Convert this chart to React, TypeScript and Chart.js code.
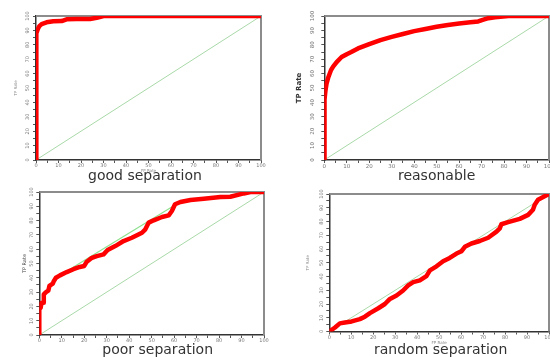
import React, { useEffect, useRef } from 'react';
import { Chart, registerables } from 'chart.js';

Chart.register(...registerables);
Chart.defaults.font.family = 'DejaVu Sans';

// ---- data (percent) ----
const axisTicks = [0, 10, 20, 30, 40, 50, 60, 70, 80, 90, 100];
const diagFpr = [0, 100];
const diagTpr = [0, 100];

const goodFpr = [0, 0, 0.3, 0.6, 1, 1.5, 2.5, 4.7, 7.7, 11.4, 13.6, 18, 24, 27, 30, 100];
const goodTpr = [0, 86, 88, 90, 91.5, 93, 94.4, 95.6, 96.3, 96.5, 97.7, 97.9, 97.9, 98.8, 100, 100];

const reasFpr = [0, 0, 0.2, 0.5, 1, 1.8, 3, 4, 5.5, 7.7, 10, 12, 15, 20, 25, 30, 35, 40, 45, 50, 55, 60, 65, 68.5, 70.5, 73, 76, 82, 100];
const reasTpr = [0, 30, 42, 48, 53, 57.5, 62.5, 65, 68, 71.5, 73.5, 75, 77.5, 80.5, 83.3, 85.5, 87.5, 89.5, 91, 92.5, 93.8, 94.8, 95.6, 96.2, 97.3, 98.5, 99.2, 100, 100];

const poorFpr = [0, 0, 0.6, 1, 1.8, 2, 3, 4, 4.5, 6, 6.5, 7.4, 9.2, 12.2, 15.2, 18, 20, 21, 23.4, 25.6, 28.6, 30.4, 33.8, 37.5, 41.2, 45.7, 47.2, 48.7, 50.9, 54.6, 57.6, 59, 60.4, 62.8, 67.3, 73.2, 80.6, 85, 91, 94, 100];
const poorTpr = [0, 18, 19, 22.6, 22.6, 28.4, 30, 31, 34.3, 35.9, 37.8, 40, 41.7, 44, 46, 47.6, 48.3, 51, 54, 55.2, 56.4, 59.4, 62.2, 65.7, 68, 71.5, 73.9, 78.6, 80.2, 82.5, 83.7, 86.7, 91.4, 93, 94.4, 95.3, 96.5, 96.7, 99, 100, 100];
const poorHullFpr = [12.5, 59.5];
const poorHullTpr = [45, 90];

const randFpr = [0, 2.6, 4.8, 7.1, 10.2, 13.9, 16.2, 18.5, 22.3, 25.3, 27.6, 30.6, 33.6, 35.9, 38.2, 41.2, 44.2, 45.8, 48.8, 51.8, 54.8, 57.9, 60.2, 61.7, 64.7, 68.5, 72.3, 76.1, 77.6, 78.3, 81.4, 86.7, 90.5, 92.7, 93.5, 95, 98, 100];
const randTpr = [0, 2.9, 5.9, 6.6, 7.3, 9, 10.8, 13.4, 16.9, 20, 23.7, 26.2, 29.8, 33.5, 35.9, 37.2, 40.3, 44.5, 47.4, 51.1, 53.5, 56.7, 58.4, 61.6, 64, 65.8, 68.2, 72.6, 75, 78, 79.5, 81.9, 84.8, 88.5, 92.2, 95.8, 98.3, 100];

const titles = ['good separation', 'reasonable', 'poor separation', 'random separation'];
const xAxisTitle = 'FP Rate';
const yAxisTitle = 'TP Rate';

const zip = (xs: number[], ys: number[]) => xs.map((x, i) => ({ x, y: ys[i] }));

type Cfg = {
  left: number; top: number; width: number; height: number;
  padTop: number; padRight: number; padBottom: number;
  yW: number; xH: number; x2H: number; titleDx: number;
  title: string;
  showX: boolean;
  yTitleSize: number; yTitleWeight: string; yTitleColor: string; yTitlePad: number;
  yTickPad: number; tickSize: number;
  curve: { x: number; y: number }[];
  hull?: { x: number; y: number }[];
};

const panels: Cfg[] = [
  {
    left: 0, top: 0, width: 275, height: 185,
    padTop: 16, padRight: 14, padBottom: 2,
    yW: 36, xH: 10, x2H: 13, titleDx: -3.5,
    title: titles[0], showX: true,
    yTitleSize: 4, yTitleWeight: 'normal', yTitleColor: '#888', yTitlePad: 13.6,
    yTickPad: 1, tickSize: 5,
    curve: zip(goodFpr, goodTpr),
  },
  {
    left: 275, top: 0, width: 275, height: 185,
    padTop: 16, padRight: 1, padBottom: 2,
    yW: 49.3, xH: 10.5, x2H: 12.5, titleDx: 0,
    title: titles[1], showX: false,
    yTitleSize: 7, yTitleWeight: 'bold', yTitleColor: '#333', yTitlePad: 19.8,
    yTickPad: 3.5, tickSize: 5.5,
    curve: zip(reasFpr, reasTpr),
  },
  {
    left: 0, top: 185, width: 275, height: 172,
    padTop: 7, padRight: 11, padBottom: 0,
    yW: 39.3, xH: 11, x2H: 11, titleDx: 6,
    title: titles[2], showX: false,
    yTitleSize: 5, yTitleWeight: 'normal', yTitleColor: '#444', yTitlePad: 22,
    yTickPad: 0, tickSize: 5,
    curve: zip(poorFpr, poorTpr),
    hull: zip(poorHullFpr, poorHullTpr),
  },
  {
    left: 275, top: 185, width: 275, height: 172,
    padTop: 9, padRight: 1, padBottom: 0,
    yW: 54.3, xH: 11, x2H: 14.5, titleDx: 1.5,
    title: titles[3], showX: true,
    yTitleSize: 4, yTitleWeight: 'normal', yTitleColor: '#888', yTitlePad: 30.6,
    yTickPad: 0, tickSize: 5,
    curve: zip(randFpr, randTpr),
  },
];

const framePlugin = {
  id: 'frame',
  beforeDatasetsDraw(chart: any) {
    const { ctx, chartArea: a } = chart;
    ctx.save();
    ctx.strokeStyle = '#8c8c8c';
    ctx.lineWidth = 2;
    ctx.beginPath();
    ctx.moveTo(a.left, a.top);
    ctx.lineTo(a.right, a.top);
    ctx.lineTo(a.right, a.bottom);
    ctx.stroke();
    ctx.restore();
  },
};

const tickLabel = (v: any) => (axisTicks.includes(Number(v)) ? String(v) : '');

function Panel({ cfg }: { cfg: Cfg }) {
  const ref = useRef<HTMLCanvasElement>(null);
  useEffect(() => {
    const datasets: any[] = [
      {
        data: cfg.curve,
        borderColor: '#ff0000',
        borderWidth: 4.5,
        showLine: true,
        pointRadius: 0,
        tension: 0,
        borderJoinStyle: 'round',
        borderCapStyle: 'round',
      },
    ];
    if (cfg.hull) {
      datasets.push({
        data: cfg.hull,
        borderColor: '#8fe08f',
        borderWidth: 1.2,
        showLine: true,
        pointRadius: 0,
      });
    }
    datasets.push({
      data: zip(diagFpr, diagTpr),
      borderColor: '#a9d9a9',
      borderWidth: 1,
      showLine: true,
      pointRadius: 0,
    });
    const shiftTitle = {
      id: 'shiftTitle',
      afterLayout(chart: any) {
        const s = chart.scales.x2;
        s.left += cfg.titleDx;
        s.right += cfg.titleDx;
      },
    };
    const gridOpts = { drawOnChartArea: false, drawTicks: true, tickLength: 3, color: '#555', lineWidth: 1 };
    const borderOpts = { display: true, color: '#333', width: 1.5 };
    const chart = new Chart(ref.current as HTMLCanvasElement, {
      type: 'scatter',
      data: { datasets },
      plugins: [framePlugin, shiftTitle],
      options: {
        responsive: false,
        animation: false,
        layout: { padding: { top: cfg.padTop, right: cfg.padRight, bottom: cfg.padBottom, left: 0 } },
        plugins: { legend: { display: false }, tooltip: { enabled: false }, title: { display: false } },
        scales: {
          x: {
            type: 'linear', min: 0, max: 100, position: 'bottom', weight: 0,
            ticks: {
              stepSize: 5, maxTicksLimit: 21, autoSkip: false, maxRotation: 0, minRotation: 0, padding: 0,
              color: '#777', font: { size: cfg.tickSize }, callback: tickLabel,
            },
            grid: gridOpts,
            border: borderOpts,
            title: { display: cfg.showX, text: xAxisTitle, color: '#888', font: { size: 4 }, padding: { top: 0, bottom: -3 } },
            afterFit: (s: any) => { s.height = cfg.xH; s.paddingLeft = 0; s.paddingRight = 0; },
          },
          x2: {
            type: 'linear', min: 0, max: 100, position: 'bottom', weight: 1,
            ticks: { display: false },
            grid: { display: false, drawTicks: false },
            border: { display: false },
            title: { display: true, text: cfg.title, color: '#333', font: { size: 14, lineHeight: 1 }, padding: 0 },
            afterFit: (s: any) => { s.height = cfg.x2H; s.paddingLeft = 0; s.paddingRight = 0; },
          },
          y: {
            type: 'linear', min: 0, max: 100, position: 'left',
            ticks: {
              stepSize: 5, maxTicksLimit: 21, autoSkip: false, minRotation: 90, maxRotation: 90,
              crossAlign: 'center', padding: cfg.yTickPad,
              color: '#777', font: { size: cfg.tickSize }, callback: tickLabel,
            },
            grid: gridOpts,
            border: borderOpts,
            title: {
              display: true, text: yAxisTitle, color: cfg.yTitleColor,
              font: { size: cfg.yTitleSize, weight: cfg.yTitleWeight as any },
              padding: { top: cfg.yTitlePad, bottom: 0 },
            },
            afterFit: (s: any) => { s.width = cfg.yW; s.paddingTop = 0; s.paddingBottom = 0; },
          },
        } as any,
      },
    } as any);
    return () => chart.destroy();
  }, []);
  return (
    <canvas
      ref={ref}
      width={cfg.width}
      height={cfg.height}
      style={{ position: 'absolute', left: cfg.left, top: cfg.top, width: cfg.width, height: cfg.height }}
    />
  );
}

export default function App() {
  return (
    <div style={{ position: 'fixed', left: 0, top: 0, width: 550, height: 357, overflow: 'hidden', background: '#fff' }}>
      {panels.map((p, i) => (
        <Panel key={i} cfg={p} />
      ))}
    </div>
  );
}
